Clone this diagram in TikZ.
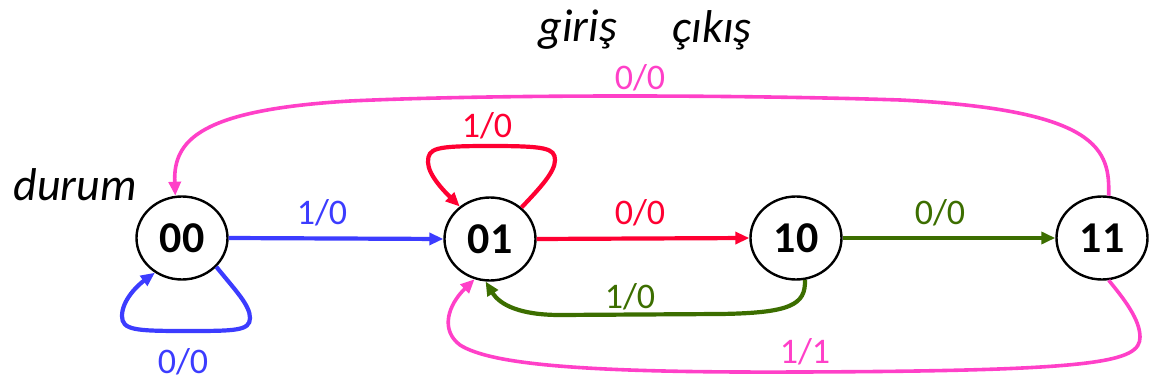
\documentclass[tikz,border=0pt]{standalone}
\usepackage{fontspec}
\setmainfont{Carlito}
\usetikzlibrary{arrows.meta,shapes.geometric}
\definecolor{cblue}{RGB}{60,60,255}
\definecolor{cred}{RGB}{255,0,50}
\definecolor{cgreen}{RGB}{60,110,0}
\definecolor{cpink}{RGB}{255,64,200}
\tikzset{
  state/.style={ellipse,draw=black,line width=1.2pt,minimum width=45.5pt,minimum height=41.5pt,inner sep=0pt,font=\fontsize{22}{24}\selectfont\bfseries},
  elabel/.style={inner sep=0pt,font=\fontsize{18}{20}\selectfont},
  ilabel/.style={inner sep=0pt,font=\fontsize{23}{26}\selectfont\itshape},
  edge/.style={line width=2.1pt,-{Triangle[length=7pt,width=6pt]}},
  pedge/.style={edge,line width=1.8pt,draw=cpink},
}
\begin{document}
\begin{tikzpicture}[x=0.5pt,y=-0.5pt]
\useasboundingbox (0,0) rectangle (1153,385);
\node[state] (s00) at (182,238) {00};
\node[state] (s01) at (490,239) {01};
\node[state] (s10) at (796,238) {10};
\node[state] (s11) at (1102,238) {11};
\node[ilabel] (durum) at (75,185) {durum};
\node[ilabel] (giris) at (578,30) {giriş};
\node[ilabel] (cikis) at (712,30) {çıkış};
% straight edges
\draw[edge,draw=cblue] (s00.east) -- (s01.west);
\draw[edge,draw=cred] (s01.east) -- (s10.west);
\draw[edge,draw=cgreen] (s10.east) -- (s11.west);
% self loop 00
\draw[edge,draw=cblue] (s00.-40) .. controls (235,290) and (250,305) .. (250,318) .. controls (250,331) and (235,331) .. (185,331) .. controls (135,331) and (122,330) .. (122,316) .. controls (122,300) and (138,285) .. (s00.-128);
% self loop 01
\draw[edge,draw=cred] (s01.45) .. controls (540,188) and (555,172) .. (555,160) .. controls (555,148) and (545,146) .. (490,146) .. controls (435,146) and (428,148) .. (428,162) .. controls (428,175) and (445,192) .. (s01.133);
% 10 -> 01
\draw[edge,draw=cgreen] (s10.-78) .. controls (806,305) and (790,313) .. (720,314) -- (560,315) .. controls (520,315) and (500,305) .. (s01.-96);
% 11 -> 01 bottom
\draw[pedge] (s11.-81) .. controls (1125,300) and (1140,320) .. (1140,337) .. controls (1140,362) and (1100,371) .. (800,372) .. controls (580,373) and (490,364) .. (460,345) .. controls (440,330) and (448,305) .. (s01.-111);
% 11 -> 00 top
\draw[pedge] (s11.81) .. controls (1110,150) and (1100,110) .. (900,100) .. controls (750,95) and (500,94) .. (350,101) .. controls (200,110) and (173,140) .. (s00.99);
% labels
\node[elabel,text=cblue] (l1) at (322,213) {1/0};
\node[elabel,text=cred] (l2) at (640,213) {0/0};
\node[elabel,text=cgreen] (l3) at (940,213) {0/0};
\node[elabel,text=cblue] (l4) at (183,362) {0/0};
\node[elabel,text=cred] (l5) at (487,126) {1/0};
\node[elabel,text=cgreen] (l6) at (630,297) {1/0};
\node[elabel,text=cpink] (l7) at (805,352) {1/1};
\node[elabel,text=cpink] (l8) at (640,78) {0/0};
\end{tikzpicture}
\end{document}
